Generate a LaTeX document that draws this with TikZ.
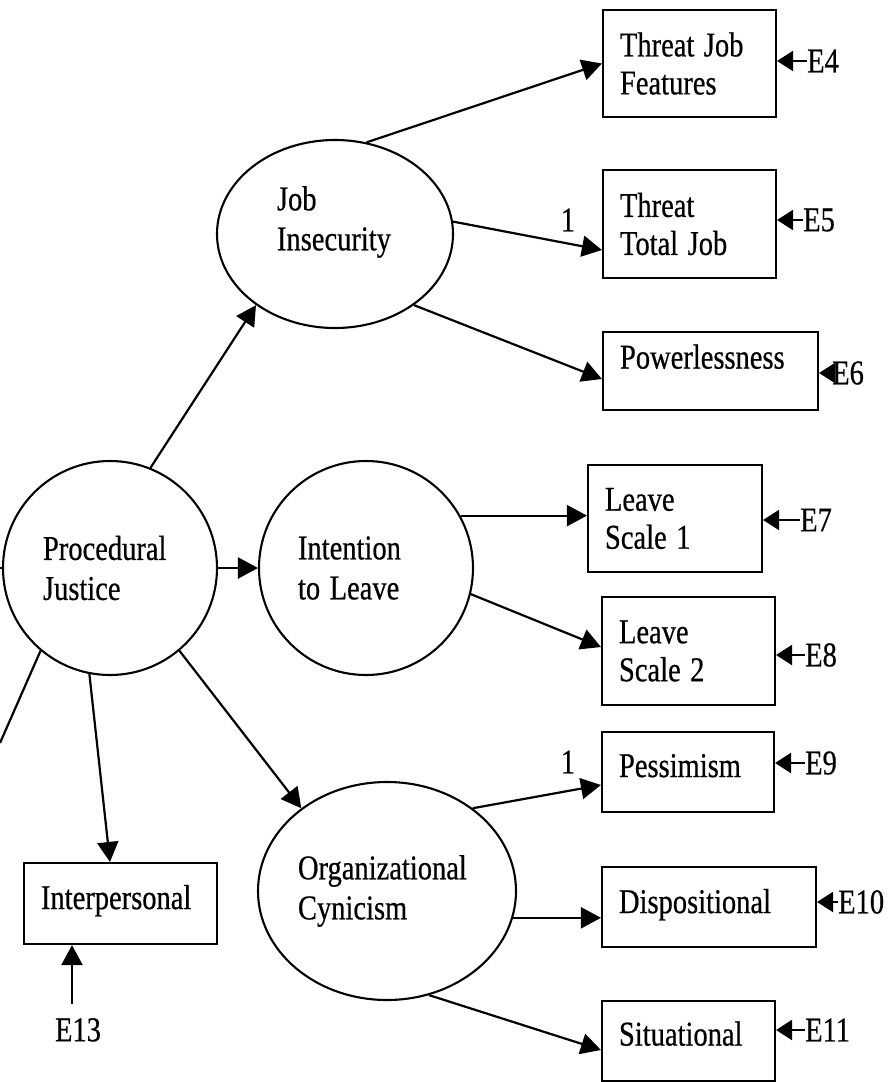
\documentclass[tikz,border=0pt]{standalone}
\usepackage{fontspec}
\setmainfont{Liberation Serif}[FakeBold=0.6]
\usepackage{graphicx}
\usetikzlibrary{arrows.meta,shapes.geometric,calc}
\newcommand{\vstr}[1]{\scalebox{1}[1.22]{#1}}
\newcommand{\dep}[1]{\rule[-#1]{0pt}{#1}}
\tikzset{
 latent/.style={ellipse, draw, line width=2.1pt, inner sep=0pt, align=left, font=\fontsize{28.5}{40}\selectfont},
 obs/.style={rectangle, draw, line width=2.1pt, inner xsep=17pt, inner ysep=0pt, align=left, font=\fontsize{28.5}{38}\selectfont},
 elab/.style={inner sep=0pt, anchor=west, font=\fontsize{28.5}{34}\selectfont},
 txt/.style={inner sep=0pt, font=\fontsize{28.5}{34}\selectfont},
 causal/.style={line width=2.2pt, -{Triangle[length=20pt,width=21pt]}},
 errarr/.style={line width=2.2pt, -{Triangle[length=16pt,width=20pt]}},
 plainline/.style={line width=2.2pt},
}
\begin{document}
\begin{tikzpicture}[x=1pt,y=-1pt]
\useasboundingbox (0,0) rectangle (893,1082);

% latent variables
\node[latent, minimum width=214pt, minimum height=214pt, text width=134pt] (pj) at (110,568) {\vstr{Procedural}\\\vstr{Justice}};
\node[latent, minimum width=236pt, minimum height=188pt, text width=116pt] (ji) at (335,234) {\vstr{Job}\\\vstr{Insecurity}\dep{31.5pt}};
\node[latent, minimum width=214pt, minimum height=214pt, text width=136pt] (il) at (366,568) {\vstr{Intention}\\\vstr{to Leave}};
\node[latent, minimum width=258pt, minimum height=218pt, text width=178pt] (oc) at (387,891) {\vstr{Organizational}\\\vstr{Cynicism}};

% observed variables
\node[obs, text width=139pt, minimum height=107pt] (tjf) at (689.5,63.5) {\vstr{Threat Job}\\\vstr{Features}};
\node[obs, text width=139pt, minimum height=108pt] (ttj) at (689.5,224) {\vstr{Threat}\\\vstr{Total Job}};
\node[obs, text width=181pt, minimum height=78pt] (pow) at (710.5,371) {\vstr{Powerlessness}\dep{29pt}};
\node[obs, text width=140pt, minimum height=107pt] (ls1) at (675,518.5) {\vstr{Leave}\\\vstr{Scale 1}};
\node[obs, text width=139pt, minimum height=108pt] (ls2) at (688.5,651) {\vstr{Leave}\\\vstr{Scale 2}};
\node[obs, text width=138pt, minimum height=80pt] (pess) at (688,772) {\vstr{Pessimism}\dep{13pt}};
\node[obs, text width=180pt, minimum height=80pt] (disp) at (709,907) {\vstr{Dispositional}\dep{12pt}};
\node[obs, text width=139pt, minimum height=80pt] (sit) at (688.5,1041) {\vstr{Situational}\dep{15pt}};
\node[obs, text width=159pt, minimum height=81pt] (inter) at (120.5,903.5) {\vstr{Interpersonal}\dep{13pt}};

% error terms
\node[elab] (e4) at (807,61) {\vstr{E4}};
\node[elab] (e5) at (803,220) {\vstr{E5}};
\node[elab] (e6) at (832,373) {\vstr{E6}};
\node[elab] (e7) at (800,520) {\vstr{E7}};
\node[elab] (e8) at (805,655) {\vstr{E8}};
\node[elab] (e9) at (805,763) {\vstr{E9}};
\node[elab] (e10) at (838,902) {\vstr{E10}};
\node[elab] (e11) at (805,1030) {\vstr{E11}};
\node[txt, anchor=north] (e13) at (78,1018) {\vstr{E13}};
\coordinate (e13a) at ($(e13.north)+(-6,-14)$);

% fixed loadings
\node[txt] (one1) at (568,220) {\vstr{1}};
\node[txt] (one2) at (568,762) {\vstr{1}};

% off-picture stubs
\coordinate (lw) at (0,568);
\coordinate (ll) at (0,743);
\draw[plainline] (pj.180) -- (lw);
\draw[plainline] (pj.-130) -- (ll);

% structural paths
\draw[causal] (pj.68) -- (ji.222);
\draw[causal] (pj.east) -- (il.west);
\draw[causal] (pj.-50) -- (oc.136);
\draw[causal] (pj.-101) -- ($(inter.north)+(-10.5,0)$);

% measurement paths
\draw[causal] (ji.71) -- (tjf.west);
\draw[causal] (ji.6) -- ($(ttj.west)+(0,26)$);
\draw[causal] (ji.-42) -- ($(pow.west)+(0,8)$);
\draw[causal] (il.29) -- (il.29 -| ls1.west);
\draw[causal] (il.-14) -- ($(ls2.west)+(0,-4)$);
\draw[causal] (oc.44) -- ($(pess.west)+(0,13)$);
\draw[causal] (oc.-12) -- (oc.-12 -| disp.west);
\draw[causal] (oc.-68) -- ($(sit.west)+(0,9)$);

% error arrows
\draw[errarr] (e4.west) -- (e4.west -| tjf.east);
\draw[errarr] (e5.west) -- (e5.west -| ttj.east);
\draw[errarr] (e6.west) -- (e6.west -| pow.east);
\draw[errarr] (e7.west) -- (e7.west -| ls1.east);
\draw[errarr] (e8.west) -- (e8.west -| ls2.east);
\draw[errarr] (e9.west) -- (e9.west -| pess.east);
\draw[errarr] (e10.west) -- (e10.west -| disp.east);
\draw[errarr] (e11.west) -- (e11.west -| sit.east);
\draw[causal] (e13a) -- (e13a |- inter.south);
\end{tikzpicture}
\end{document}
